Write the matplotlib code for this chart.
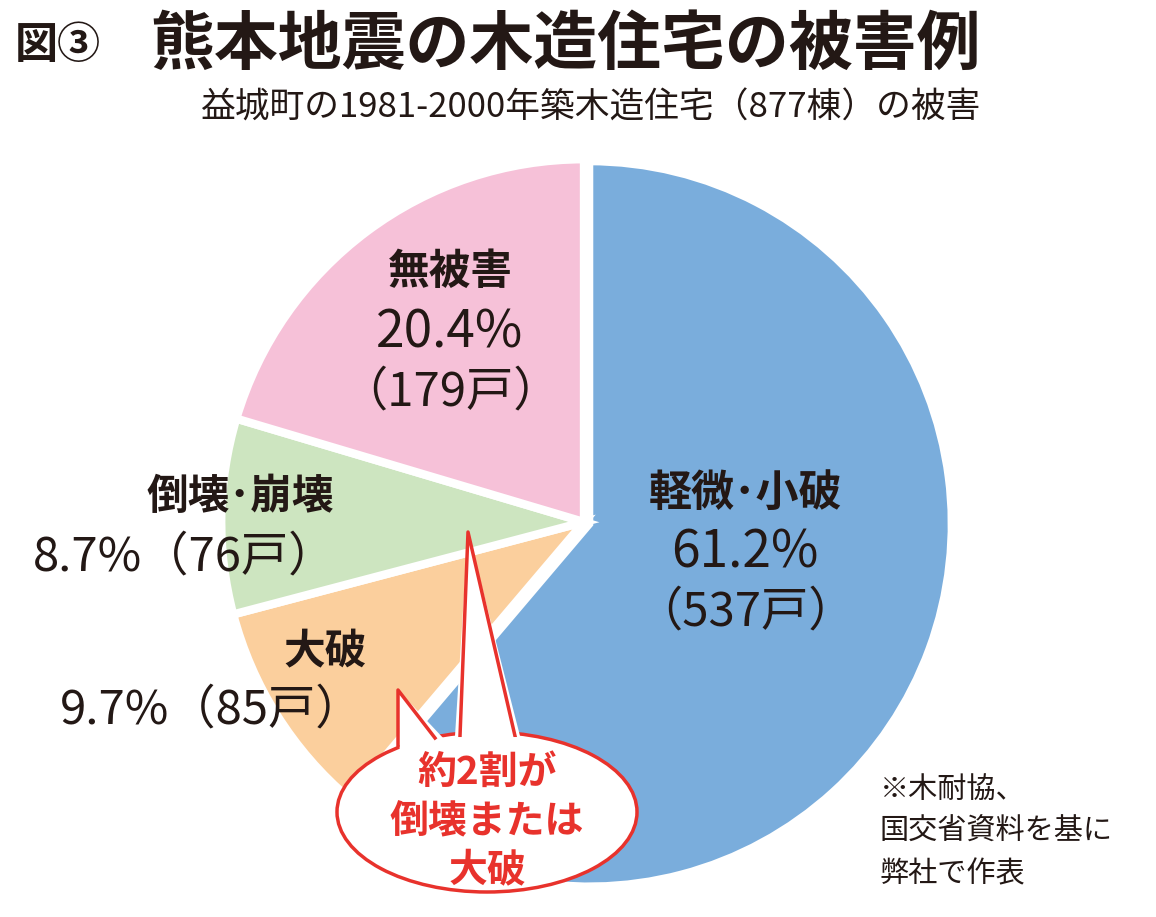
import matplotlib
matplotlib.use("Agg")
import matplotlib.pyplot as plt
from matplotlib.patches import Ellipse, Polygon

labels = ["軽微・小破", "大破", "倒壊・崩壊", "無被害"]
shares = [61.2, 9.7, 8.7, 20.4]
counts = [537, 85, 76, 179]
colors = ["#7aaddc", "#fbcf9d", "#cde5c0", "#f6c1d8"]

plt.rcParams["font.family"] = "Noto Sans CJK JP"
fig = plt.figure(figsize=(11.56, 9.17), dpi=100)
W, H = 1156, 917
cx, cy, r = 584, 522, 370
ax = fig.add_axes([(cx - r) / W, (H - cy - r) / H, 2 * r / W, 2 * r / H])
ax.pie(shares, colors=colors, startangle=90, counterclock=False,
       explode=[0.015, 0.0, 0.0, 0.0],
       wedgeprops=dict(edgecolor="white", linewidth=6))
ax.set_aspect("equal")
ax.set_xlim(-1.02, 1.02); ax.set_ylim(-1.02, 1.02)

o = fig.add_axes([0, 0, 1, 1], facecolor="none")
o.set_xlim(0, W); o.set_ylim(H, 0); o.axis("off")
k = "#231815"
o.text(15, 45, "図③", fontsize=31, fontweight="bold", color=k, va="center")
o.text(150, 45, "熊本地震の木造住宅の被害例", fontsize=46, fontweight="bold", color=k, va="center")
o.text(590, 108, "益城町の1981-2000年築木造住宅（877棟）の被害", fontsize=25, color=k, ha="center", va="center")

o.text(745, 493, "軽微･小破", fontsize=31, fontweight="bold", color=k, ha="center", va="center")
o.text(745, 553, f"{shares[0]}%", fontsize=37, color=k, ha="center", va="center")
o.text(745, 612, f"（{counts[0]}戸）", fontsize=34, color=k, ha="center", va="center")

o.text(450, 272, labels[3], fontsize=30, fontweight="bold", color=k, ha="center", va="center")
o.text(450, 333, f"{shares[3]}%", fontsize=37, color=k, ha="center", va="center")
o.text(450, 392, f"（{counts[3]}戸）", fontsize=34, color=k, ha="center", va="center")

o.text(240, 497, "倒壊･崩壊", fontsize=30, fontweight="bold", color=k, ha="center", va="center")
o.text(185, 557, f"{shares[2]}%（{counts[2]}戸）", fontsize=34, color=k, ha="center", va="center")

o.text(325, 652, labels[1], fontsize=30, fontweight="bold", color=k, ha="center", va="center")
o.text(212, 710, f"{shares[1]}%（{counts[1]}戸）", fontsize=34, color=k, ha="center", va="center")

red = "#e8322c"
o.add_patch(Ellipse((487, 812), 300, 160, facecolor="white", edgecolor=red, lw=2.5, zorder=5))
o.add_patch(Polygon([(400, 760), (398, 690), (445, 740)], closed=True, facecolor="white", edgecolor="none", zorder=6))
o.plot([398, 398, 435], [745, 690, 738], color=red, lw=2.5, zorder=6)
o.add_patch(Polygon([(455, 736), (468, 532), (520, 736)], closed=True, facecolor="white", edgecolor="none", zorder=6))
o.plot([460, 468, 515], [736, 532, 736], color=red, lw=2.5, zorder=6)
o.plot([460, 515], [740, 740], color="white", lw=5, zorder=6)
for y, t in [(772, "約2割が"), (822, "倒壊または"), (870, "大破")]:
    o.text(487, y, t, fontsize=28, fontweight="bold", color=red, ha="center", va="center", zorder=7)

for y, t in [(790, "※木耐協、"), (832, "国交省資料を基に"), (874, "弊社で作表")]:
    o.text(880, y, t, fontsize=21, color=k, ha="left", va="center")

fig.savefig("out.png", dpi=100, facecolor="white")
